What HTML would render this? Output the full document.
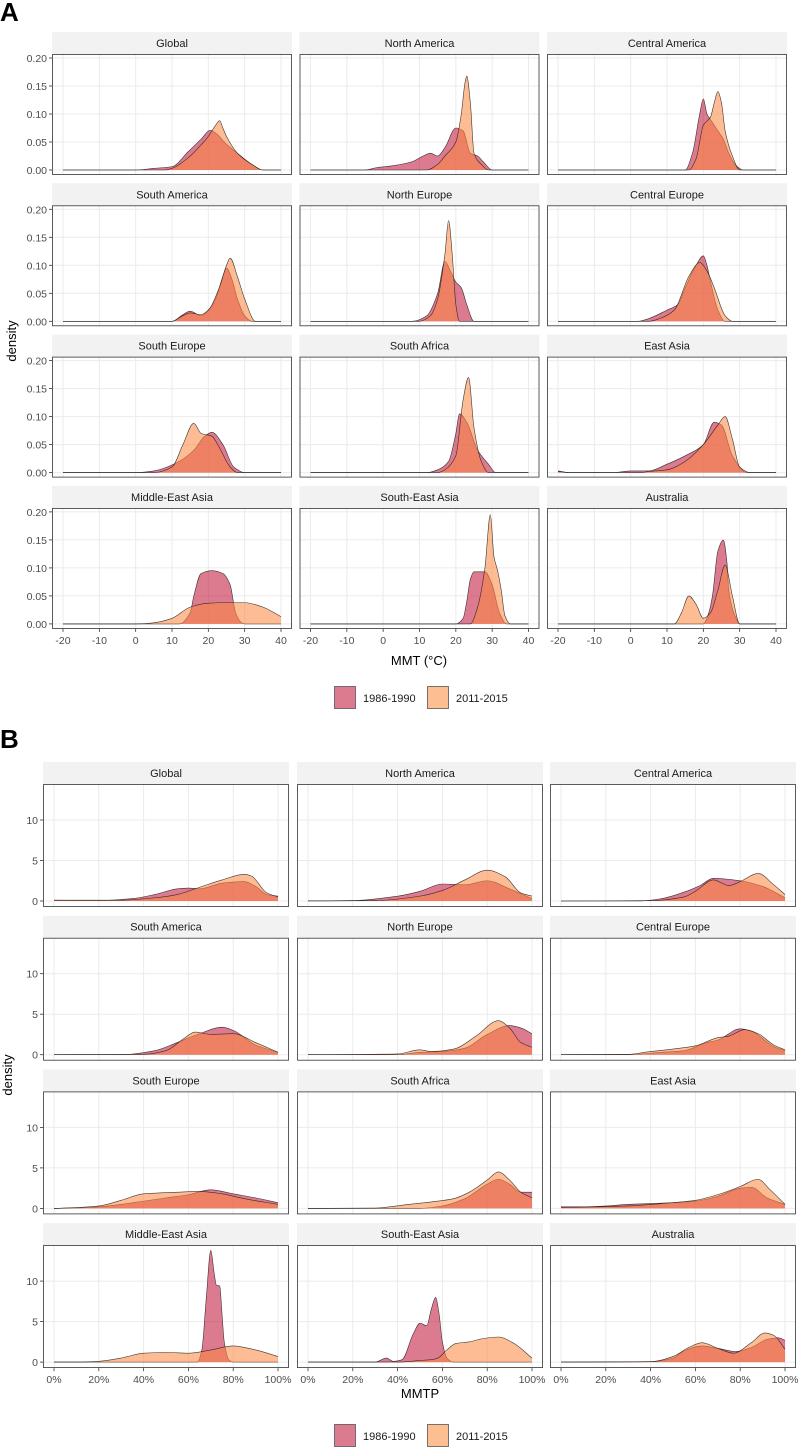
<!DOCTYPE html>
<html><head><meta charset="utf-8">
<style>
html,body{margin:0;padding:0;background:#fff;}
body{width:800px;height:1447px;overflow:hidden;font-family:"Liberation Sans",Arial,sans-serif;}
svg text{font-family:"Liberation Sans",Arial,sans-serif;}
</style></head>
<body>
<svg id="chart" width="800" height="1447" viewBox="0 0 800 1447" xmlns="http://www.w3.org/2000/svg"></svg>
<script>
const regions = ["Global","North America","Central America","South America","North Europe","Central Europe","South Europe","South Africa","East Asia","Middle-East Asia","South-East Asia","Australia"];
const seriesNames = ["1986-1990","2011-2015"];
const xTicksA = [-20,-10,0,10,20,30,40];
const xTickLabelsA = ["-20","-10","0","10","20","30","40"];
const yTicksA = [0,0.05,0.10,0.15,0.20];
const yTickLabelsA = ["0.00","0.05","0.10","0.15","0.20"];
const xTicksB = [0,20,40,60,80,100];
const xTickLabelsB = ["0%","20%","40%","60%","80%","100%"];
const yTicksB = [0,5,10];
const yTickLabelsB = ["0","5","10"];

// Panel A: MMT density, [x, density] pairs; 1986-1990
const mmtEarly = [
 [[0,0],[5,0.003],[10,0.006],[14.5,0.033],[18,0.055],[20.5,0.071],[22,0.066],[25,0.046],[28,0.03],[32,0.01],[35,0]],
 [[-5,0],[-2,0.004],[3,0.008],[8,0.015],[11,0.025],[13,0.03],[15,0.025],[17,0.04],[20,0.075],[22,0.07],[24,0.03],[26,0.025],[27.5,0.015],[30,0]],
 [[15,0],[17,0.03],[19,0.1],[20,0.127],[21,0.1],[22.5,0.085],[24,0.07],[25.5,0.055],[27,0.03],[29,0.008],[31,0]],
 [[10,0],[13,0.012],[15,0.018],[18,0.01],[20,0.02],[22,0.04],[24,0.08],[25,0.095],[26.5,0.075],[28,0.04],[30,0.01],[32,0]],
 [[8,0],[12,0.01],[15,0.05],[17,0.107],[18.5,0.09],[20,0.07],[21.5,0.06],[23,0.03],[25,0]],
 [[2,0],[5,0.005],[10,0.02],[13,0.03],[15,0.06],[18,0.1],[20,0.117],[21,0.1],[22,0.07],[24,0.02],[26,0]],
 [[0,0],[5,0.003],[12,0.02],[16,0.04],[19,0.065],[21,0.072],[24,0.05],[27,0.01],[30,0]],
 [[12,0],[15,0.005],[18,0.02],[20,0.07],[21,0.105],[23,0.09],[26,0.04],[29,0.015],[31,0]],
 [[-20,0.003],[-17,0],[-5,0],[0,0.003],[5,0.003],[10,0.015],[15,0.03],[20,0.05],[23,0.09],[25,0.085],[28,0.03],[32,0]],
 [[12,0],[15,0.02],[16,0.05],[18,0.09],[21,0.095],[24,0.09],[26,0.07],[27.5,0.02],[29,0.003],[30,0]],
 [[20,0],[22,0.01],[23,0.04],[24,0.08],[25,0.093],[28,0.093],[30,0.07],[32,0.02],[34,0]],
 [[20,0],[21.5,0.02],[22.5,0.05],[24,0.13],[25.5,0.15],[26.5,0.11],[27,0.06],[29,0.01],[30,0]]
];
// Panel A: 2011-2015
const mmtLate = [
 [[8,0],[10,0.003],[15,0.025],[18,0.045],[20,0.06],[22,0.08],[23.1,0.088],[24,0.075],[25,0.06],[28,0.03],[32,0.01],[35,0]],
 [[12,0],[15,0.01],[17,0.025],[20,0.05],[21.5,0.1],[22.5,0.155],[23,0.168],[24,0.12],[25,0.03],[27,0.01],[29,0]],
 [[16,0],[18,0.02],[20,0.08],[22,0.095],[23,0.12],[24,0.14],[25,0.12],[26,0.07],[28,0.025],[30,0]],
 [[10,0],[13,0.01],[15,0.015],[18,0.012],[20,0.02],[23,0.06],[25,0.1],[26,0.113],[28,0.08],[30,0.04],[33,0]],
 [[10,0],[13,0.01],[15,0.04],[17,0.12],[18,0.18],[19,0.12],[20,0.03],[21,0]],
 [[5,0],[8,0.005],[12,0.02],[16,0.08],[19,0.105],[21,0.09],[23,0.06],[26,0.01],[28,0]],
 [[5,0],[10,0.01],[13,0.05],[16,0.088],[18,0.07],[21,0.065],[23,0.045],[26,0.01],[28,0]],
 [[15,0],[17,0.005],[20,0.03],[22,0.13],[23.5,0.17],[25,0.08],[27,0.02],[29,0]],
 [[-20,0.002],[-17,0],[3,0],[5,0.002],[10,0.005],[15,0.02],[20,0.05],[24,0.085],[26,0.1],[28,0.06],[30,0.01],[33,0]],
 [[0,0],[5,0.002],[10,0.01],[15,0.03],[20,0.037],[25,0.038],[30,0.038],[35,0.03],[40,0.013]],
 [[24,0],[26,0.03],[28,0.1],[29.5,0.195],[30.5,0.12],[31.5,0.095],[32.5,0.06],[33.5,0.015],[35,0]],
 [[12,0],[14,0.02],[16,0.05],[18,0.035],[20,0.01],[22,0.02],[24,0.06],[26,0.105],[28,0.05],[30,0]]
];
// Panel B: MMTP density (x in %); 1986-1990
const mmtpEarly = [
 [[0,0.1],[20,0.05],[35,0.3],[45,0.8],[55,1.5],[60,1.6],[65,1.5],[75,2.2],[85,2.4],[90,1.8],[95,0.8],[100,0.6]],
 [[0,0.02],[20,0.05],[40,0.6],[50,1.2],[60,2.1],[70,2.0],[80,2.5],[90,1.5],[100,0.3]],
 [[0,0],[35,0],[45,0.3],[55,1.1],[62,1.9],[68,2.8],[80,2.5],[90,1.8],[100,0.4]],
 [[0,0],[30,0],[45,0.5],[55,1.5],[65,2.6],[75,3.4],[80,3.0],[90,1.2],[100,0.3]],
 [[0,0],[40,0],[50,0.3],[60,0.4],[70,0.8],[80,2.5],[90,3.6],[95,3.3],[100,2.6]],
 [[0,0],[30,0],[45,0.3],[55,0.5],[65,1.5],[70,1.8],[80,3.2],[85,2.9],[95,1.0],[100,0.5]],
 [[0,0],[10,0.05],[20,0.2],[30,0.5],[40,0.9],[50,1.3],[60,1.7],[70,2.3],[80,1.8],[90,1.3],[100,0.7]],
 [[0,0],[50,0],[60,0.3],[70,1.2],[80,3.0],[85,3.6],[90,3.0],[95,2.0],[100,2.0]],
 [[0,0.2],[10,0.2],[20,0.3],[30,0.5],[40,0.6],[50,0.7],[60,0.9],[70,1.5],[80,2.5],[85,2.6],[92,1.3],[100,0.5]],
 [[0,0],[64,0],[66,1.5],[68,8],[70,13.8],[71.5,11],[72.5,9.5],[74,9.4],[75,6],[76,2.5],[78,0.3],[80,0],[100,0]],
 [[0,0],[30,0],[35,0.5],[38,0.1],[42,0.3],[47,3.5],[50,4.8],[53,4.5],[55,6.5],[57,8.0],[58.5,6],[60,2.5],[62,0.5],[65,0],[100,0]],
 [[0,0],[40,0.05],[50,0.5],[55,1.4],[63,2.0],[70,1.7],[78,1.3],[85,1.8],[92,2.8],[97,3.0],[100,2.7]]
];
// Panel B: 2011-2015
const mmtpLate = [
 [[0,0.1],[30,0.1],[45,0.4],[55,0.8],[65,1.7],[75,2.6],[85,3.3],[88,3.1],[95,1.0],[100,0.5]],
 [[0,0],[30,0.05],[50,0.6],[60,1.3],[70,2.6],[80,3.8],[88,3.0],[95,1.0],[100,0.6]],
 [[0,0],[40,0.05],[55,0.5],[60,1.2],[68,2.6],[75,1.9],[80,2.4],[88,3.4],[95,2.0],[100,0.8]],
 [[0,0],[40,0.05],[50,0.5],[58,2.0],[63,2.8],[70,2.5],[80,2.6],[90,1.5],[100,0.3]],
 [[0,0],[40,0.1],[50,0.6],[55,0.4],[65,0.7],[75,2.3],[85,4.2],[90,3.3],[95,1.5],[100,0.9]],
 [[0,0],[30,0.05],[40,0.4],[50,0.7],[60,1.1],[70,2.1],[75,2.3],[82,3.1],[88,2.6],[95,1.2],[100,0.6]],
 [[0,0],[10,0.1],[20,0.3],[30,1.0],[40,1.8],[55,2.0],[65,2.1],[75,1.8],[85,1.2],[100,0.5]],
 [[0,0],[30,0.05],[45,0.5],[55,0.8],[65,1.2],[72,2.0],[80,3.5],[85,4.5],[90,3.5],[95,2.0],[100,1.3]],
 [[0,0.1],[30,0.3],[45,0.6],[60,1.0],[70,1.7],[80,2.7],[88,3.6],[93,2.4],[100,0.5]],
 [[0,0],[10,0],[20,0.1],[30,0.5],[40,1.1],[50,1.2],[60,1.1],[70,1.5],[80,2.0],[90,1.5],[100,0.7]],
 [[0,0],[40,0],[50,0.2],[55,0.3],[58,0.5],[62,1.5],[66,2.3],[72,2.5],[78,2.9],[85,3.1],[92,2.3],[100,0.5]],
 [[0,0],[40,0.05],[50,0.7],[57,1.8],[63,2.4],[70,1.7],[77,1.1],[85,2.4],[91,3.6],[95,3.3],[100,1.6]]
];

const NS = "http://www.w3.org/2000/svg";
const svg = document.getElementById('chart');
function mk(tag, attrs, parent){
  const e = document.createElementNS(NS, tag);
  for (const k in attrs) e.setAttribute(k, attrs[k]);
  (parent||svg).appendChild(e);
  return e;
}
function monotonePath(pts){
  const n = pts.length;
  if (n < 2) return "";
  const dx=[], m=[], t=new Array(n);
  for (let i=0;i<n-1;i++){ dx[i]=pts[i+1][0]-pts[i][0]; m[i]=(pts[i+1][1]-pts[i][1])/dx[i]; }
  t[0]=m[0]; t[n-1]=m[n-2];
  for (let i=1;i<n-1;i++){
    if (m[i-1]*m[i] <= 0) t[i]=0;
    else { const w1=2*dx[i]+dx[i-1], w2=dx[i]+2*dx[i-1]; t[i]=(w1+w2)/(w1/m[i-1]+w2/m[i]); }
  }
  let d = "M"+pts[0][0].toFixed(2)+","+pts[0][1].toFixed(2);
  for (let i=0;i<n-1;i++){
    const h=dx[i]/3;
    d += " C"+(pts[i][0]+h).toFixed(2)+","+(pts[i][1]+t[i]*h).toFixed(2)+" "+(pts[i+1][0]-h).toFixed(2)+","+(pts[i+1][1]-t[i+1]*h).toFixed(2)+" "+pts[i+1][0].toFixed(2)+","+pts[i+1][1].toFixed(2);
  }
  return d;
}
const fills = ["#c11239","#fc8841"];

function drawFacet(cfg){
  const {cols, rowTop0, rowPitch, panelW, panelH, xMin, xMax, xRel0, xRel1, yZeroRel, yScale, xTicks, xTickLabels, yTicks, yTickLabels, early, late, prefix} = cfg;
  for (let i=0;i<regions.length;i++){
    const r=Math.floor(i/3), c=i%3;
    const px=cols[c], stripTop=rowTop0+r*rowPitch, py=stripTop+22;
    const g = mk('g',{});
    
    
    const strip = mk('rect',{x:px,y:stripTop,width:panelW,height:22,fill:'#f2f2f2'},g);
    
    
    const st = mk('text',{x:px+panelW/2,y:stripTop+15,'text-anchor':'middle','font-size':'11',fill:'#1a1a1a'},g);
    st.textContent = regions[i];
    
    
    const sx = v => px + xRel0 + (v-xMin)/(xMax-xMin)*(xRel1-xRel0);
    const sy = v => py + yZeroRel - v*yScale;
    for (const t of xTicks) mk('line',{x1:sx(t),x2:sx(t),y1:py,y2:py+panelH,stroke:'#ebebeb','stroke-width':1},g);
    for (const t of yTicks) mk('line',{x1:px,x2:px+panelW,y1:sy(t),y2:sy(t),stroke:'#ebebeb','stroke-width':1},g);
    [early[i], late[i]].forEach((data, s) => {
      let pts = data.slice();
      if (pts[0][0] > xMin) pts.unshift([xMin,0]);
      if (pts[pts.length-1][0] < xMax) pts.push([xMax,0]);
      const sp = pts.map(p=>[sx(p[0]), sy(Math.max(0,p[1]))]);
      const curve = monotonePath(sp);
      const area = mk('path',{d: curve+" L"+sx(xMax).toFixed(2)+","+sy(0).toFixed(2)+" L"+sx(xMin).toFixed(2)+","+sy(0).toFixed(2)+" Z",fill:fills[s],'fill-opacity':0.56,stroke:'none'},g);
      
      
      const ln = mk('path',{d:curve,fill:'none',stroke:'#1a1a1a','stroke-width':0.6,'stroke-opacity':0.85},g);
      
      
    });
    mk('rect',{x:px+0.5,y:py+0.5,width:panelW-1,height:panelH-1,fill:'none',stroke:'#333','stroke-width':0.8},g);
    if (c===0){
      yTicks.forEach((t,k)=>{
        mk('line',{x1:px-3,x2:px,y1:sy(t),y2:sy(t),stroke:'#333','stroke-width':0.8},g);
        const yt = mk('text',{x:px-5,y:sy(t)+4,'text-anchor':'end','font-size':'10.5',fill:'#4d4d4d'},g);
        yt.textContent = yTickLabels[k];
        
        
      });
    }
    if (r===3){
      xTicks.forEach((t,k)=>{
        mk('line',{x1:sx(t),x2:sx(t),y1:py+panelH,y2:py+panelH+3,stroke:'#333','stroke-width':0.8},g);
        const xt = mk('text',{x:sx(t),y:py+panelH+15,'text-anchor':'middle','font-size':'10.5',fill:'#4d4d4d'},g);
        xt.textContent = xTickLabels[k];
        
        
      });
    }
  }
}

drawFacet({cols:[52,299.5,547], rowTop0:32, rowPitch:151.3, panelW:240, panelH:121,
  xMin:-20, xMax:40, xRel0:11, xRel1:229, yZeroRel:116, yScale:560,
  xTicks:xTicksA, xTickLabels:xTickLabelsA, yTicks:yTicksA, yTickLabels:yTickLabelsA,
  early:mmtEarly, late:mmtLate, prefix:'a'});
drawFacet({cols:[43,297,550], rowTop0:762, rowPitch:153.7, panelW:246, panelH:123,
  xMin:0, xMax:100, xRel0:11, xRel1:235, yZeroRel:117, yScale:8.1,
  xTicks:xTicksB, xTickLabels:xTickLabelsB, yTicks:yTicksB, yTickLabels:yTickLabelsB,
  early:mmtpEarly, late:mmtpLate, prefix:'b'});

function addText(x,y,str,attrs,name){
  const t = mk('text',Object.assign({x:x,y:y},attrs));
  t.textContent = str;
  
  
  return t;
}
addText(0,21,"A",{'font-size':'26','font-weight':'bold',fill:'#000'},'panel-a-label');
addText(0,748,"B",{'font-size':'26','font-weight':'bold',fill:'#000'},'panel-b-label');
addText(419,665,"MMT (°C)",{'font-size':'13','text-anchor':'middle',fill:'#000'},'x-axis-title-a');
addText(420,1398,"MMTP",{'font-size':'13','text-anchor':'middle',fill:'#000'},'x-axis-title-b');
addText(0,0,"density",{'font-size':'13','text-anchor':'middle',fill:'#000',transform:'translate(16,341) rotate(-90)'},'y-axis-title-a');
addText(0,0,"density",{'font-size':'13','text-anchor':'middle',fill:'#000',transform:'translate(12,1075) rotate(-90)'},'y-axis-title-b');

function legend(y, tag){
  const keyX=[334,427], keyFill=['#dc7a90','#fdbf91'];
  seriesNames.forEach((s,k)=>{
    const g = mk('g',{});
    
    
    mk('rect',{x:keyX[k]+0.5,y:y+0.5,width:21,height:22,fill:keyFill[k],stroke:'#555','stroke-width':0.8},g);
    const t = mk('text',{x:keyX[k]+29,y:y+16,'font-size':'11',fill:'#1a1a1a'},g);
    t.textContent = s;
    
    
  });
}
legend(686,'a');
legend(1424,'b');
</script>
</body></html>
